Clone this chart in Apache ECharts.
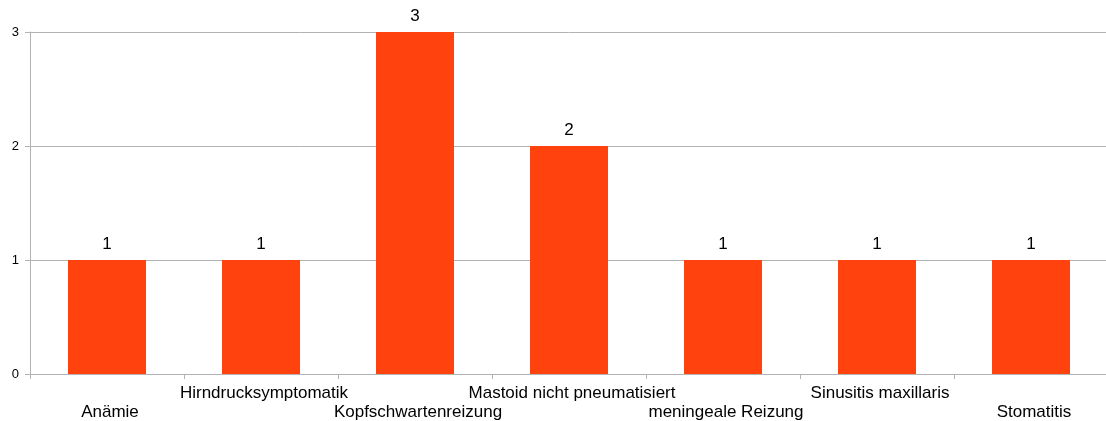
<!DOCTYPE html>
<html><head><meta charset="utf-8">
<script src="https://cdn.jsdelivr.net/npm/echarts@6/dist/echarts.min.js"></script>
<style>html,body{margin:0;padding:0;background:#fff}#c{width:1106px;height:421px}</style>
</head><body><div id="c"></div>
<script>
const categories = ["Anämie","Hirndrucksymptomatik","Kopfschwartenreizung","Mastoid nicht pneumatisiert","meningeale Reizung","Sinusitis maxillaris","Stomatitis"];
const values = [1,1,3,2,1,1,1];
const yTicks = [0,1,2,3];

const chart = echarts.init(document.getElementById('c'), null, {renderer:'canvas'});
chart.setOption({
  animation:false,
  backgroundColor:'#ffffff',
  grid:{left:30,right:-2,top:32,bottom:47,outerBoundsMode:'none'},
  xAxis:{
    type:'category',
    data:categories,
    axisLine:{lineStyle:{color:'#b3b3b3',width:1}},
    axisTick:{show:true,length:5,lineStyle:{color:'#b3b3b3'}},
    axisLabel:{
      interval:0, margin:10, fontFamily:'Liberation Sans', fontSize:17, color:'#000', lineHeight:19,
      padding:[0,0,0,6],
      formatter:(v,i)=> i%2===0 ? '\n'+v : v
    },
    splitLine:{show:false}
  },
  yAxis:{
    type:'value', min:yTicks[0], max:yTicks[yTicks.length-1], interval:1,
    axisLine:{show:true,lineStyle:{color:'#b3b3b3'}},
    axisTick:{show:true,length:5,lineStyle:{color:'#b3b3b3'}},
    axisLabel:{margin:11,fontFamily:'Liberation Sans',fontSize:13,color:'#000'},
    splitLine:{lineStyle:{color:'#b3b3b3'}}
  },
  series:[{
    type:'bar', data:values, barWidth:78,
    itemStyle:{color:'#ff420e'},
    label:{show:true,position:'top',distance:7,fontFamily:'Liberation Sans',fontSize:17,color:'#000'}
  }]
});
</script></body></html>
